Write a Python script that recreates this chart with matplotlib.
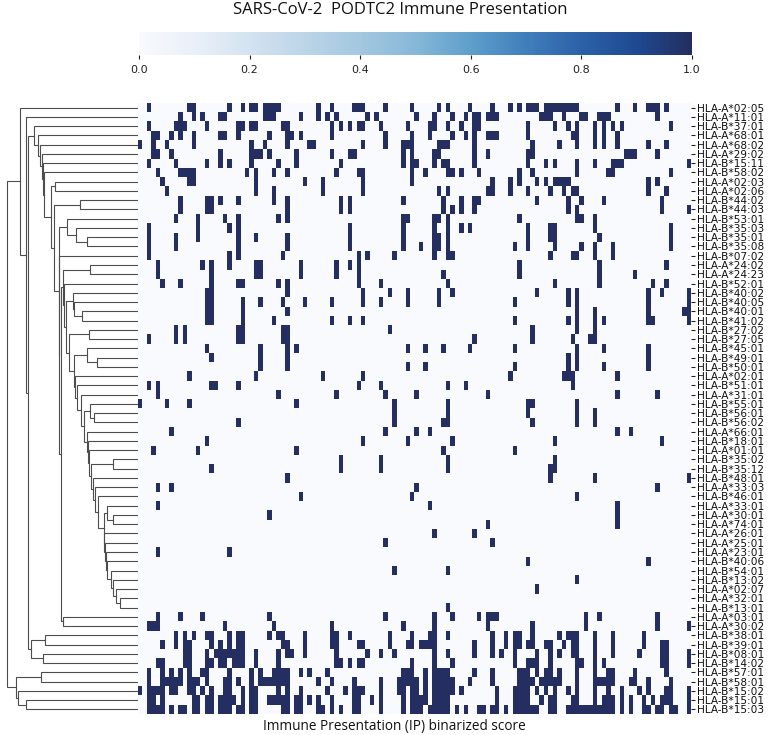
import numpy as np
import matplotlib
matplotlib.use("Agg")
import matplotlib.pyplot as plt
from matplotlib.colors import LinearSegmentedColormap

W, H = 768, 735
alleles = ["HLA-A*02:05","HLA-A*11:01","HLA-B*37:01","HLA-A*68:01","HLA-A*68:02","HLA-A*29:02","HLA-B*15:11","HLA-B*58:02","HLA-A*02:03","HLA-A*02:06","HLA-B*44:02","HLA-B*44:03","HLA-B*53:01","HLA-B*35:03","HLA-B*35:01","HLA-B*35:08","HLA-B*07:02","HLA-A*24:02","HLA-A*24:23","HLA-B*52:01","HLA-B*40:02","HLA-B*40:05","HLA-B*40:01","HLA-B*41:02","HLA-B*27:02","HLA-B*27:05","HLA-B*45:01","HLA-B*49:01","HLA-B*50:01","HLA-A*02:01","HLA-B*51:01","HLA-A*31:01","HLA-B*55:01","HLA-B*56:01","HLA-B*56:02","HLA-A*66:01","HLA-B*18:01","HLA-A*01:01","HLA-B*35:02","HLA-B*35:12","HLA-B*48:01","HLA-A*33:03","HLA-B*46:01","HLA-A*33:01","HLA-A*30:01","HLA-A*74:01","HLA-A*26:01","HLA-A*25:01","HLA-A*23:01","HLA-B*40:06","HLA-B*54:01","HLA-B*13:02","HLA-A*02:07","HLA-A*32:01","HLA-B*13:01","HLA-A*03:01","HLA-A*30:02","HLA-B*38:01","HLA-B*39:01","HLA-B*08:01","HLA-B*14:02","HLA-B*57:01","HLA-B*58:01","HLA-B*15:02","HLA-B*15:01","HLA-B*15:03"]
n_positions = 124
# positive positions per allele
hits = [
 [2,11,12,20,23,25,26,28,29,30,31,40,43,48,49,50,55,61,67,69,74,79,83,85,87,88,89,91,92,93,94,95,96,97,98,107,111,114,115,116,118],
 [9,12,14,18,19,28,29,30,36,40,42,44,51,53,62,66,70,73,75,76,78,79,80,90,91,92,95,99,100,103,104,105,116],
 [2,8,9,10,15,22,23,25,26,32,33,43,45,47,49,50,54,60,65,66,69,72,75,76,87,93,96,98,102,104,106,108,119],
 [3,4,7,9,12,18,19,22,29,33,34,36,43,55,61,65,70,73,75,78,79,80,87,97,98,102,104,107],
 [0,3,6,12,25,28,33,38,39,50,55,59,60,61,67,68,69,75,88,94,98,102,104,107,114,118],
 [3,4,7,18,25,26,27,29,35,43,47,48,59,61,66,67,75,78,87,88,109,110,111,116],
 [2,8,15,18,20,25,31,35,45,59,61,62,66,68,69,75,87,91,93,98,102,106,107,108,123],
 [4,9,10,11,12,24,26,30,33,44,49,50,61,64,69,70,72,76,85,88,98,105,106,119],
 [5,11,12,26,37,41,50,61,79,83,85,89,91,93,94,95,96,114,116],
 [6,26,30,41,50,67,69,78,79,83,87,92,95,97,98,114,118],
 [9,15,16,18,22,30,33,45,47,59,68,72,75,76,89,96,99,104,117],
 [9,15,16,33,45,47,68,70,72,75,96,98,117,123],
 [8,13,19,22,31,33,59,60,66,67,69,85,98,99,102],
 [2,13,20,22,47,59,66,69,72,74,87,92,93,102,119],
 [2,8,13,22,26,33,47,59,66,67,69,87,92,93,103,119],
 [2,8,22,33,47,59,63,66,67,69,84,87,93,99,102,106,119],
 [2,20,22,32,49,51,57,66,69,70,92,97,98,102,106],
 [4,14,16,20,26,27,36,44,47,49,85,103,118],
 [4,16,26,27,36,44,49,68,85,103,111],
 [5,9,16,22,23,31,33,49,54,69,93,103,115,118],
 [15,16,33,50,56,60,67,70,89,96,98,114,117,123],
 [15,16,23,27,32,37,43,50,54,60,67,84,96,98,114,123],
 [15,16,23,33,98,102,114,122,123],
 [15,16,23,30,43,47,50,84,96,98,102,104,114,115,123],
 [8,10,22,23,32,33,56,88,98,102],
 [2,8,10,22,23,32,33,75,88,97,101,102],
 [15,27,33,35,60,64,68,74,84,98,104,114],
 [16,27,33,96,98,114],
 [27,33,60,64,84,96,98,104,114],
 [11,26,41,50,83,95,96,97,107],
 [2,4,16,17,22,49,54,69,73,97],
 [4,31,44,55,62,78,107,116],
 [0,6,11,35,57,69,87,88,98],
 [57,69,87,98,102],
 [22,57,68,69,88,98,102],
 [7,55,62,65,107,110],
 [15,50,60,70,93,117],
 [3,13,35,68,84],
 [45,54,69,93],
 [16,45,54,69,92,93],
 [33,92,102,123],
 [4,7,62,116],
 [36,61,98],
 [4,65,107],
 [29,107],
 [78,107],
 [66,75],
 [55,79],
 [4,20],
 [87,114],
 [57,69],
 [98],
 [89],
 [],
 [69],
 [4,9,14,29,55,66,70,76,78,79,80,100,103,116],
 [2,3,4,19,30,43,59,66,78,88,100,116,123],
 [8,10,12,15,16,20,22,23,29,31,32,37,43,44,47,56,61,65,66,69,79,82,84,85,88,94,96,97,98,102,106,113],
 [5,8,10,11,16,18,20,22,23,32,33,37,43,44,49,50,56,60,61,63,64,65,66,75,79,82,84,85,87,88,91,92,95,97,98,102,106,113,117,118],
 [10,11,15,17,18,19,20,21,22,23,26,31,33,34,37,44,51,54,57,66,69,75,79,81,84,89,92,94,97,98,102,106,112,117,118,123],
 [4,5,10,11,15,16,18,19,21,22,23,26,31,44,45,47,49,50,61,66,70,84,87,88,89,92,98,99,102,104,117,118,123],
 [2,5,7,9,11,14,15,20,25,27,30,31,32,33,36,38,42,59,60,61,64,66,67,68,69,75,79,85,86,87,89,91,92,94,98,102,105,106,111,118],
 [2,5,6,7,8,9,11,12,13,15,19,20,22,25,27,28,29,30,31,32,33,40,43,48,54,58,59,60,61,62,64,66,67,68,69,70,74,79,85,86,87,88,90,91,92,93,94,98,102,103,104,105,106,110,111,114,119],
 [0,2,3,4,5,7,8,11,12,14,16,19,20,23,25,26,31,33,36,42,46,48,49,50,54,58,59,61,62,64,66,67,68,69,70,72,80,84,85,86,87,89,91,93,96,98,102,105,108,112,114,118,119,123],
 [2,3,5,12,13,15,16,18,19,20,21,23,25,26,29,30,31,32,33,35,36,38,40,43,48,49,52,54,59,61,62,63,64,66,67,68,69,80,84,85,86,87,90,92,93,97,98,102,104,105,106,108,110,113,115,117,118,119,123],
 [2,3,4,5,7,9,10,12,13,15,16,18,19,20,22,23,25,26,32,33,35,36,40,41,43,45,48,49,54,59,61,62,63,65,66,67,68,69,71,73,76,77,79,80,82,84,85,86,87,88,89,92,93,96,97,98,99,100,101,102,103,104,105,106,108,110,113,114,116,117,119,120,123],
]
# clustering of the alleles: (left child, right child, height); ints are leaves, strings are earlier nodes
merges = [
 (53,54,17.7,"a"),(52,"a",22.3,"b"),(51,"b",24.7,"c"),(50,"c",27.3,"d"),(49,"d",30.7,"e"),(48,"e",32.3,"f"),(47,"f",33,"g"),(46,"g",33.7,"h"),
 (44,45,25.3,"i"),(43,"i",30.7,"j"),("j","h",34.3,"k"),(42,"k",39.7,"l"),(41,"l",43,"m"),(40,"m",44.7,"n"),
 (38,39,24.7,"o"),("o","n",47.3,"p"),(37,"p",48.7,"q"),(36,"q",49.7,"r"),(35,"r",50.7,"s"),
 (33,34,43.7,"t"),(32,"t",48,"u"),("u","s",53.7,"v"),(31,"v",57.3,"w"),(30,"w",60.7,"x"),(29,"x",62.7,"y"),
 (27,28,40.7,"z"),(26,"z",50.7,"aa"),("aa","y",63.7,"ab"),(24,25,48.7,"ac"),("ac","ab",68.7,"ad"),
 (22,23,56.3,"ae"),(21,"ae",64,"af"),(20,"af",64.7,"ag"),("ag","ad",72.3,"ah"),(19,"ah",74,"ai"),
 (17,18,47.7,"aj"),("aj","ai",74.7,"ak"),(55,56,74.7,"al"),("ak","al",77,"am"),(16,"am",78.7,"an"),
 (14,15,51.3,"ao"),(13,"ao",62,"ap"),(12,"ap",71.3,"aq"),("aq","an",79.3,"ar"),
 (10,11,58,"as"),("as","ar",83.7,"at"),(8,9,83,"au"),("au","at",87.3,"av"),
 (7,"av",93.7,"aw"),(6,"aw",95.3,"ax"),(5,"ax",96.3,"ay"),(4,"ay",97.7,"az"),(3,"az",100.3,"ba"),(2,"ba",103.7,"bb"),
 (57,58,92.7,"bc"),(59,60,94.7,"bd"),("bc","bd",107.3,"be"),("bb","be",110.3,"bf"),(1,"bf",112.3,"bg"),(0,"bg",118.3,"bh"),
 (61,62,97.3,"bi"),(64,65,111.7,"bj"),(63,"bj",119.7,"bk"),("bi","bk",121.7,"bl"),("bh","bl",131.3,"root"),
]
cbar_ticks = [0.0,0.2,0.4,0.6,0.8,1.0]
cmap_colors = ["#f8fafe","#eaf0f9","#d3e3f1","#bcd5e8","#a3c8e0","#87b8d8","#5f9fcb","#417fbc","#2d62a8","#1f4a92","#252e60"]

title = "SARS-CoV-2  PODTC2 Immune Presentation"
xlabel = "Immune Presentation (IP) binarized score"

cmap = LinearSegmentedColormap.from_list("ip", cmap_colors)
FONT = ["Open Sans", "DejaVu Sans"]

def axpx(fig, x0, y0, x1, y1):
    return fig.add_axes([x0/W, 1-y1/H, (x1-x0)/W, (y1-y0)/H])

fig = plt.figure(figsize=(W/100, H/100), dpi=100, facecolor="white")

# heat map
top, bottom, left, right = 103, 714, 138, 690.5
ax = axpx(fig, left, top, right, bottom)
mat = np.zeros((len(alleles), n_positions))
for i, cols in enumerate(hits):
    mat[i, cols] = 1
ax.imshow(mat, cmap=cmap, vmin=0, vmax=1, aspect="auto", interpolation="nearest",
          extent=(0, n_positions, len(alleles), 0))
for s in ax.spines.values():
    s.set_visible(False)
ax.set_xticks([])
ax.yaxis.tick_right()
ax.set_yticks(np.arange(len(alleles))+0.5)
ax.set_yticklabels(alleles, fontsize=7.6, family="DejaVu Sans", color="#111111")
ax.tick_params(axis="y", length=3.0, width=0.8, pad=2.0, color="#222222")

# dendrogram
dax = axpx(fig, 0, top, left, bottom)
dax.set_xlim(left, 0)
dax.set_ylim(len(alleles), 0)
dax.axis("off")
pos = {}
def where(c):
    return (0.0, c+0.5) if isinstance(c, int) else pos[c]
for a, b, h, name in merges:
    ha, ya = where(a)
    hb, yb = where(b)
    dax.plot([ha, h, h, hb], [ya, ya, yb, yb], color="#4d4d4d", lw=0.8, solid_joinstyle="miter")
    pos[name] = (h, (ya+yb)/2)

# colour bar
cax = axpx(fig, 139, 32, 692, 55)
grad = np.linspace(0, 1, 512)[None, :]
cax.imshow(grad, cmap=cmap, vmin=0, vmax=1, aspect="auto", extent=(0, 1, 0, 1))
cax.set_yticks([])
cax.set_xticks(cbar_ticks)
cax.set_xticklabels([f"{t:.1f}" for t in cbar_ticks], fontsize=8, family="DejaVu Sans", color="#222222")
cax.tick_params(axis="x", length=3, width=0.8, pad=4, color="#222222")
for s in cax.spines.values():
    s.set_visible(False)

fig.text(400/W, 1-10/H, title, fontsize=12, family=FONT, ha="center", va="center", color="#111111")
fig.text(394/W, 1-726.5/H, xlabel, fontsize=9.8, family=FONT, ha="center", va="center", color="#111111")

fig.savefig("out.png", dpi=100, facecolor="white")
